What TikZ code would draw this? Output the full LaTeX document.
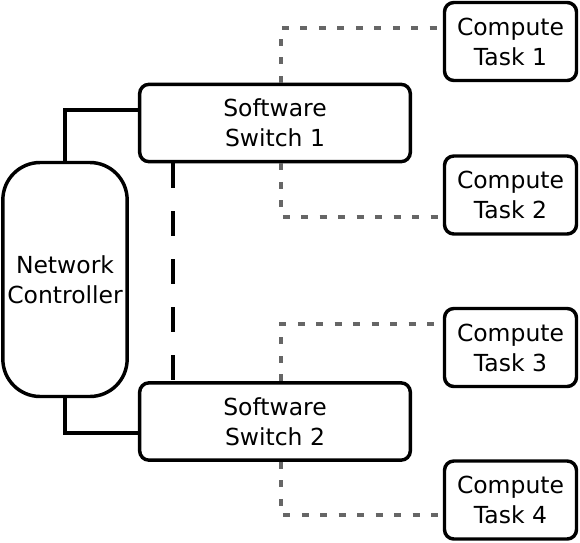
\documentclass[tikz,border=0pt]{standalone}
\usepackage{fontspec}
\setmainfont{DejaVu Sans}
\usetikzlibrary{positioning,calc}

\begin{document}
\begin{tikzpicture}[
    x=0.75pt, y=-0.75pt,
    box/.style={rectangle, draw, line width=2.6pt, rounded corners=7pt, align=center, font=\fontsize{17.6}{22.5}\selectfont},
    switchbox/.style={box, minimum width=203pt, minimum height=58pt},
    taskbox/.style={box, minimum width=99pt, minimum height=58.5pt},
    ctrlbox/.style={box, rounded corners=28pt, minimum width=92pt, minimum height=175.5pt},
    ctrlline/.style={line width=2.6pt},
    peerline/.style={line width=2.6pt, dash pattern=on 18.75pt off 17.25pt},
    taskline/.style={line width=2.6pt, black!60, dash pattern=on 5.25pt off 8.6pt}
]
\useasboundingbox (0,0) rectangle (580,542);
\node[ctrlbox] (nc) at (65,279.5) {Network\\Controller};
\node[switchbox] (sw1) at (275,123) {Software\\Switch 1};
\node[switchbox] (sw2) at (275,421.5) {Software\\Switch 2};
\node[taskbox] (t1) at (510.5,41.5) {Compute\\Task 1};
\node[taskbox] (t2) at (510.5,195) {Compute\\Task 2};
\node[taskbox] (t3) at (510.5,347.5) {Compute\\Task 3};
\node[taskbox] (t4) at (510.5,500) {Compute\\Task 4};
\draw[ctrlline] (nc.north) |- ([yshift=9.75pt]sw1.west);
\draw[ctrlline] (nc.south) |- ([yshift=-8.6pt]sw2.west);
\draw[peerline] ([xshift=-76.5pt]sw1.south) -- ([xshift=-76.5pt]sw2.north);
\draw[taskline] ([xshift=4.5pt]sw1.north) |- ([yshift=10pt]t1.west);
\draw[taskline] ([xshift=4.5pt]sw1.south) |- ([yshift=-16.5pt]t2.west);
\draw[taskline] ([xshift=4.5pt]sw2.north) |- ([yshift=17.6pt]t3.west);
\draw[taskline] ([xshift=4.5pt]sw2.south) |- ([yshift=-11.25pt]t4.west);
\end{tikzpicture}
\end{document}
